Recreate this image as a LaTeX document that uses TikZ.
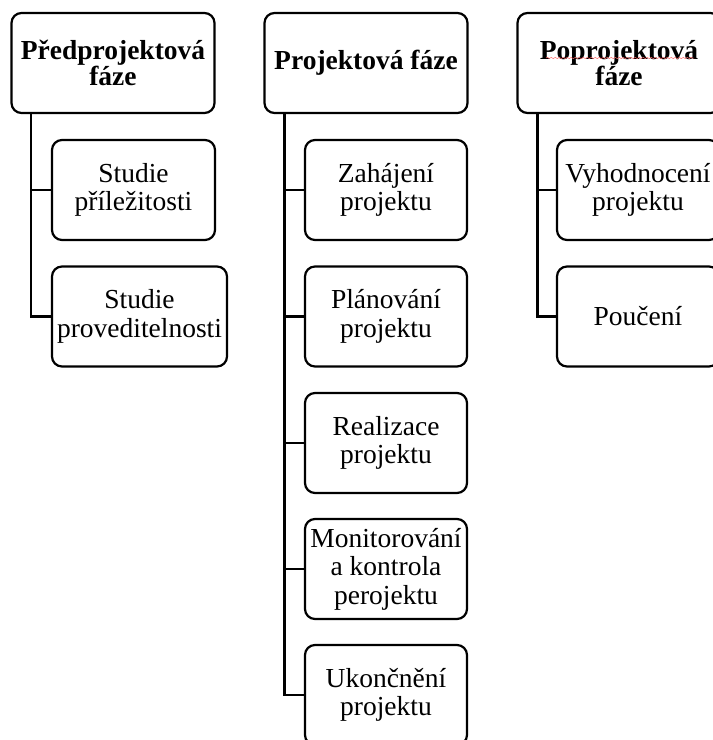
\documentclass[tikz,border=0pt]{standalone}
\usepackage{fontspec}
\setmainfont{Liberation Serif}
\usetikzlibrary{decorations.pathmorphing}
\begin{document}
\begin{tikzpicture}[x=1pt,y=-1pt,
  box/.style={draw, line width=2.2pt, rounded corners=10pt, align=center,
    inner sep=0pt, minimum height=100pt, font=\fontsize{27.5}{28.5}\selectfont},
  phase/.style={box, minimum width=203pt, font=\fontsize{27.5}{26}\selectfont\bfseries},
  task/.style={box, minimum width=162pt},
  link/.style={draw, line width=2.4pt, line join=miter}]
\clip (0,0) rectangle (713,740);

% phase headers
\node[phase] (pre)  at (113,63)   {Předprojektová\\fáze};
\node[phase] (proj) at (366,63)   {Projektová fáze};
\node[phase] (post) at (619,63)   {Poprojektová\\fáze};

% pre-project tasks
\node[task, minimum width=163pt] (p1) at (133.5,190) {Studie\\příležitosti};
\node[task, minimum width=175pt] (p2) at (139.5,316.5) {Studie\\proveditelnosti};

% project tasks
\node[task] (m1) at (386,190)   {Zahájení\\projektu};
\node[task] (m2) at (386,316.5) {Plánování\\projektu};
\node[task] (m3) at (386,443)   {Realizace\\projektu};
\node[task] (m4) at (386,569)   {Monitorování\\a kontrola\\perojektu};
\node[task] (m5) at (386,695)   {Ukončnění\\projektu};

% post-project tasks
\node[task] (r1) at (638,190)   {Vyhodnocení\\projektu};
\node[task] (r2) at (638,316.5) {Poučení};

% spell-check underline
\coordinate (sq1) at (546,58);
\coordinate (sq2) at (694,58);
\draw[red!60!white, line width=0.5pt, decorate,
  decoration={snake, amplitude=0.6pt, segment length=4pt}] (sq1) -- (sq2);

% tree connectors
\path[link] ([xshift=20.5pt]pre.south west) |- (p1.west);
\path[link] ([xshift=20.5pt]pre.south west) |- (p2.west);
\foreach \kid in {m1,m2,m3,m4,m5}
  \path[link] ([xshift=21pt]proj.south west) |- (\kid.west);
\foreach \kid in {r1,r2}
  \path[link] ([xshift=21pt]post.south west) |- (\kid.west);
\end{tikzpicture}
\end{document}
